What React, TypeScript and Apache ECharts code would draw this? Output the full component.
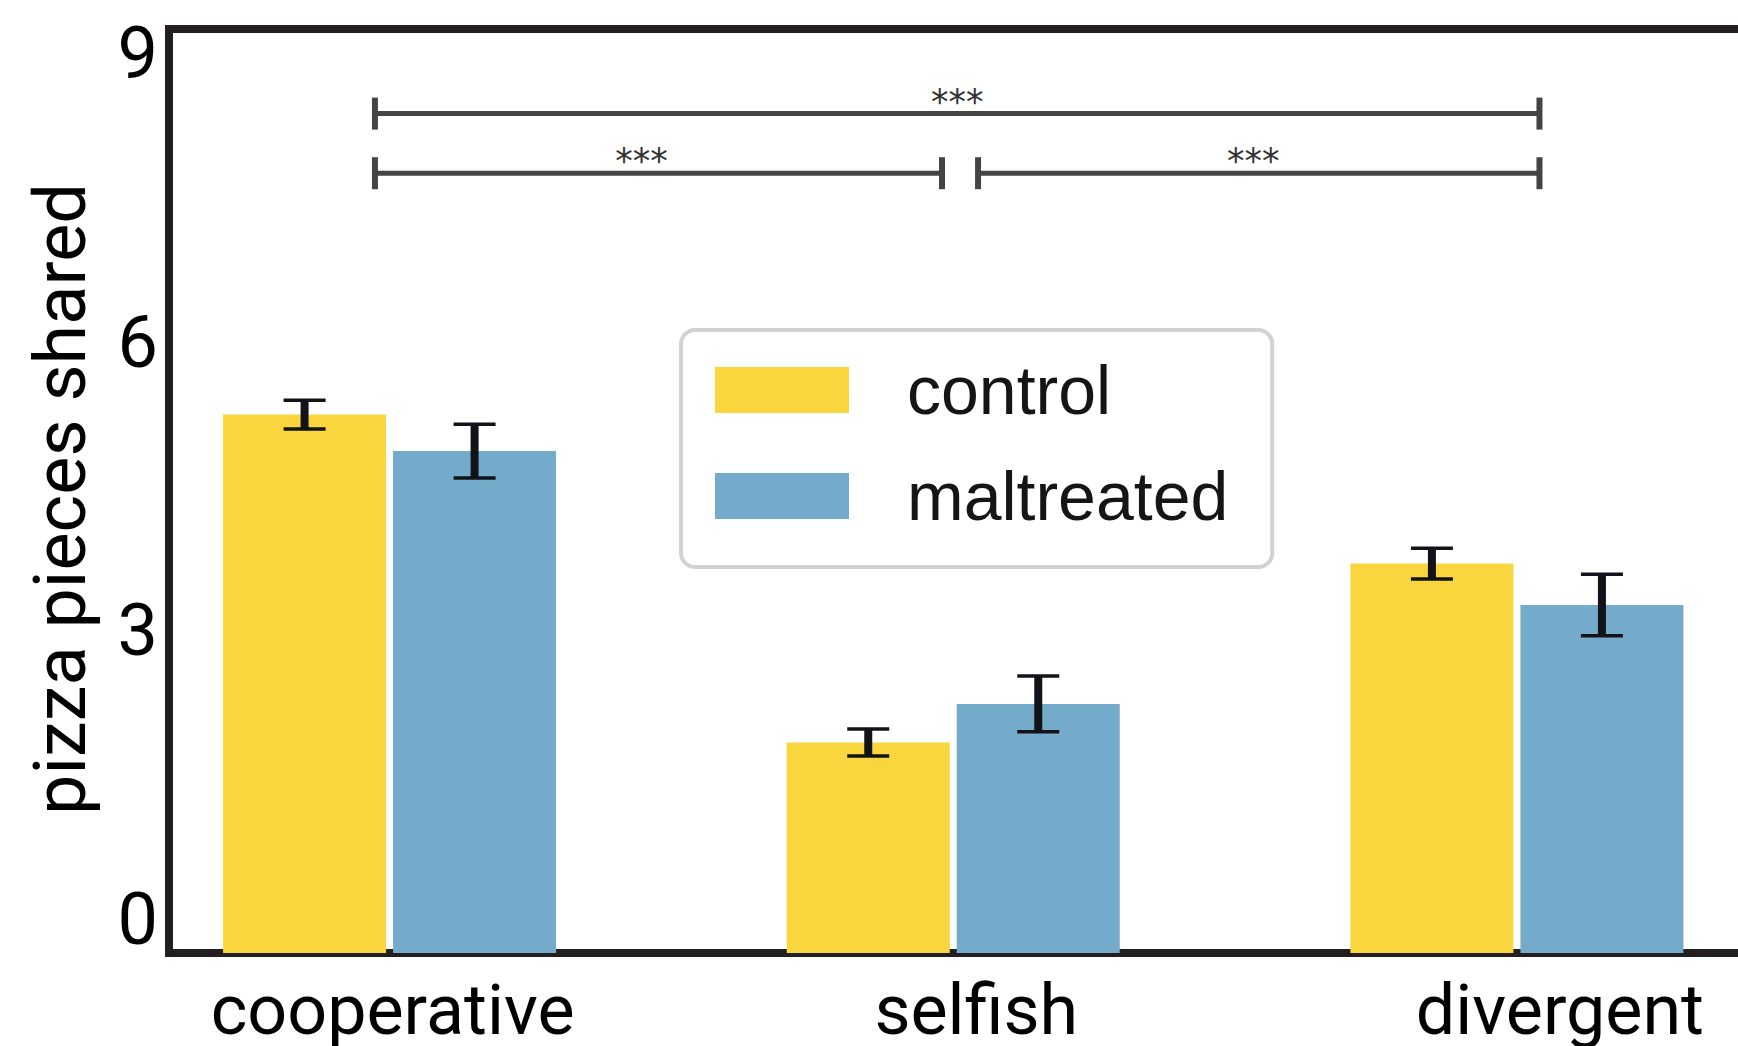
import React, { useEffect, useRef } from "react";
import * as echarts from "echarts";

const categories = ["cooperative", "selfish", "divergent"];
const seriesNames = ["control", "maltreated"];
const controlMeans = [5.6, 2.19, 4.05];
const controlErr = [0.15, 0.14, 0.16];
const maltMeans = [5.22, 2.59, 3.62];
const maltErr = [0.28, 0.29, 0.32];
const yTickLabels = [0, 3, 6, 9];
const yMax = 9.61;

// significance brackets: category index + offset (fraction of band), level in data units
const bracketFromCat = [0, 0, 1];
const bracketFromOff = [-0.026, -0.026, 0.044];
const bracketToCat = [2, 1, 2];
const bracketToOff = [0.04, -0.02, 0.04];
const bracketLevel = [8.73, 8.11, 8.11];
const bracketLabel = ["***", "***", "***"];
const bracketLabelPos = [0.5, 0.47, 0.49];

const COLORS = ["#FAD63E", "#74ABCB"];
const BAR_W = 163;
const BAR_GAP = 7;
const SPINE = "#231f20";
// horizontal nudge (px) of each category label, as placed in the reference
const LABEL_SHIFT = [3, 23, 43];

export default function App() {
  const ref = useRef<HTMLDivElement>(null);
  useEffect(() => {
    if (!ref.current) return;
    const chart = echarts.init(ref.current, null, { renderer: "svg" });

    const errData: number[][] = [];
    categories.forEach((_, i) => {
      errData.push([i, controlMeans[i] - controlErr[i], controlMeans[i] + controlErr[i], 0]);
      errData.push([i, maltMeans[i] - maltErr[i], maltMeans[i] + maltErr[i], 1]);
    });
    const brData = bracketLevel.map((lv, k) => [
      bracketFromCat[k], lv, bracketToCat[k], bracketFromOff[k], bracketToOff[k], bracketLabelPos[k], k,
    ]);

    const rich: any = {};
    LABEL_SHIFT.forEach((s, i) => {
      rich["c" + i] = {
        fontFamily: "Roboto",
        fontSize: 70,
        color: "#000000",
        padding: [0, 0, 0, 2 * s],
      };
    });

    const option: any = {
      animation: false,
      backgroundColor: "#ffffff",
      grid: [
        { left: 169, right: -20, top: 29, bottom: 93, outerBoundsMode: "none", containLabel: false },
        { left: 107.75, width: 1691, top: 29, bottom: 93, outerBoundsMode: "none", containLabel: false },
      ],
      legend: {
        data: seriesNames,
        orient: "vertical",
        left: 681,
        top: 330,
        icon: "rect",
        itemWidth: 134,
        itemHeight: 46,
        itemGap: 38,
        padding: [26, 44, 37, 34],
        borderColor: "#d2d2d2",
        borderWidth: 4,
        borderRadius: 14,
        backgroundColor: "#ffffff",
        selectedMode: false,
        textStyle: {
          fontFamily: "Liberation Sans",
          fontSize: 68,
          color: "#151515",
          lineHeight: 46,
          padding: [0, 0, 0, 53],
        },
      },
      xAxis: [
        {
          gridIndex: 0,
          type: "value",
          min: 0,
          max: 1,
          position: "bottom",
          axisLine: { show: true, onZero: false, lineStyle: { color: SPINE, width: 8, cap: "square" } },
          axisTick: { show: false },
          axisLabel: { show: false },
          splitLine: { show: false },
        },
        {
          gridIndex: 0,
          type: "value",
          min: 0,
          max: 1,
          position: "top",
          axisLine: { show: true, onZero: false, lineStyle: { color: SPINE, width: 8, cap: "square" } },
          axisTick: { show: false },
          axisLabel: { show: false },
          splitLine: { show: false },
        },
        {
          gridIndex: 1,
          type: "category",
          data: categories,
          axisLine: { show: false },
          axisTick: { show: false },
          splitLine: { show: false },
          axisLabel: {
            interval: 0,
            hideOverlap: false,
            fontFamily: "Roboto",
            fontSize: 70,
            color: "#000000",
            margin: 22,
            formatter: (v: string, idx: number) => `{c${idx}|${v}}`,
            rich,
          },
        },
      ],
      yAxis: [
        {
          gridIndex: 0,
          type: "value",
          min: 0,
          max: yMax,
          interval: 3,
          name: "pizza pieces shared",
          nameLocation: "middle",
          nameGap: 73,
          nameTextStyle: { fontFamily: "Roboto", fontSize: 72, color: "#000000", padding: [0, 16, 0, 0] },
          axisLine: { show: true, lineStyle: { color: SPINE, width: 8, cap: "square" } },
          axisTick: { show: false },
          splitLine: { show: false },
          axisLabel: {
            fontFamily: "Roboto",
            fontSize: 72,
            color: "#000000",
            margin: 11,
            verticalAlign: "bottom",
            lineHeight: 68,
            formatter: (v: number) => (yTickLabels.includes(v) ? String(v) : ""),
          },
        },
        {
          gridIndex: 1,
          type: "value",
          min: 0,
          max: yMax,
          show: false,
        },
      ],
      series: [
        {
          name: seriesNames[0],
          type: "bar",
          xAxisIndex: 2,
          yAxisIndex: 1,
          data: controlMeans,
          barWidth: BAR_W,
          barGap: ((BAR_GAP / BAR_W) * 100).toFixed(2) + "%",
          itemStyle: { color: COLORS[0] },
        },
        {
          name: seriesNames[1],
          type: "bar",
          xAxisIndex: 2,
          yAxisIndex: 1,
          data: maltMeans,
          barWidth: BAR_W,
          barGap: ((BAR_GAP / BAR_W) * 100).toFixed(2) + "%",
          itemStyle: { color: COLORS[1] },
        },
        {
          name: "errors",
          type: "custom",
          xAxisIndex: 2,
          yAxisIndex: 1,
          z: 10,
          data: errData,
          encode: { x: 0, y: [1, 2] },
          renderItem: (params: any, api: any) => {
            const i = api.value(0);
            const lo = api.value(1);
            const hi = api.value(2);
            const s = api.value(3);
            const off = (s === 0 ? -1 : 1) * (BAR_W + BAR_GAP) / 2;
            const pLo = api.coord([i, lo]);
            const pHi = api.coord([i, hi]);
            const x = pLo[0] + off;
            const st = { stroke: "#111318", lineWidth: 3.5 };
            return {
              type: "group",
              children: [
                { type: "line", shape: { x1: x, y1: pHi[1], x2: x, y2: pLo[1] }, style: { stroke: "#111318", lineWidth: 8 } },
                { type: "line", shape: { x1: x - 21, y1: pHi[1], x2: x + 21, y2: pHi[1] }, style: st },
                { type: "line", shape: { x1: x - 21, y1: pLo[1], x2: x + 21, y2: pLo[1] }, style: st },
              ],
            };
          },
        },
        {
          name: "brackets",
          type: "custom",
          xAxisIndex: 2,
          yAxisIndex: 1,
          z: 10,
          data: brData,
          encode: { x: 0, y: 1 },
          renderItem: (params: any, api: any) => {
            const fromCat = api.value(0);
            const lv = api.value(1);
            const toCat = api.value(2);
            const fromOff = api.value(3);
            const toOff = api.value(4);
            const pos = api.value(5);
            const k = api.value(6);
            const band = api.size([1, 0])[0];
            const p1 = api.coord([fromCat, lv]);
            const p2 = api.coord([toCat, lv]);
            const x1 = p1[0] + fromOff * band;
            const x2 = p2[0] + toOff * band;
            const y = p1[1];
            const st = { stroke: "#444444", lineWidth: 5 };
            return {
              type: "group",
              children: [
                { type: "line", shape: { x1, y1: y, x2, y2: y }, style: st },
                { type: "line", shape: { x1, y1: y - 16, x2: x1, y2: y + 16 }, style: { stroke: "#444444", lineWidth: 6 } },
                { type: "line", shape: { x1: x2, y1: y - 16, x2, y2: y + 16 }, style: { stroke: "#444444", lineWidth: 6 } },
                {
                  type: "text",
                  style: {
                    text: bracketLabel[k],
                    x: x1 + (x2 - x1) * pos,
                    y: y - 12,
                    align: "center",
                    verticalAlign: "middle",
                    fontFamily: "DejaVu Sans",
                    fontSize: 35,
                    fill: "#333333",
                  },
                },
              ],
            };
          },
        },
      ],
    };
    chart.setOption(option);
    return () => chart.dispose();
  }, []);
  return (
    <div
      ref={ref}
      style={{ position: "fixed", left: 0, top: 0, width: 1738, height: 1046, background: "#fff" }}
    />
  );
}
